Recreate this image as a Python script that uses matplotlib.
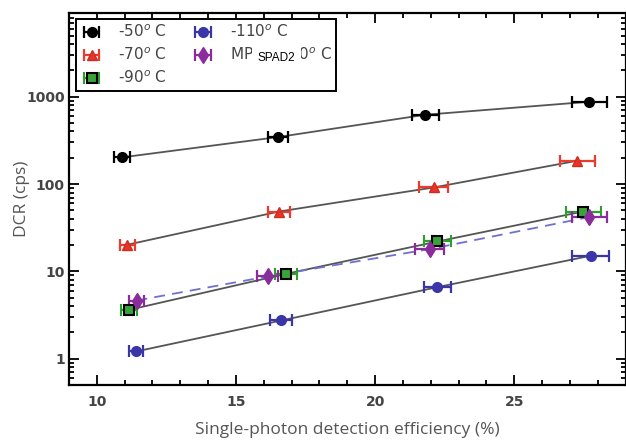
import matplotlib
matplotlib.use("Agg")
import matplotlib.pyplot as plt
from matplotlib.ticker import MultipleLocator, LogLocator, NullFormatter, FixedLocator, FixedFormatter

# ---- data ----
sde_50 = [10.9, 16.5, 21.8, 27.7]
dcr_50 = [202, 345, 622, 877]
err_50 = [0.28, 0.36, 0.49, 0.62]

sde_70 = [11.1, 16.55, 22.1, 27.26]
dcr_70 = [20.2, 48.5, 91.4, 185]
err_70 = [0.28, 0.41, 0.51, 0.62]

sde_90 = [11.17, 16.8, 22.24, 27.47]
dcr_90 = [3.63, 9.37, 22.0, 48.5]
err_90 = [0.28, 0.41, 0.50, 0.63]

sde_110 = [11.41, 16.63, 22.24, 27.74]
dcr_110 = [1.21, 2.74, 6.6, 15.1]
err_110 = [0.24, 0.39, 0.50, 0.66]

sde_m90 = [11.43, 16.14, 21.96, 27.69]
dcr_m90 = [4.64, 8.75, 18.0, 41.9]
err_m90 = [0.26, 0.37, 0.52, 0.63]

labels = ["-50$^o$ C", "-70$^o$ C", "-90$^o$ C", "-110$^o$ C", "MPD2  -90$^o$ C"]
xticks = [10, 15, 20, 25]
yticks = [1, 10, 100, 1000]
ytick_labels = ["1", "10", "100", "1000"]

fig = plt.figure(figsize=(6.26, 4.41), dpi=100)
ax = fig.add_axes([0.110, 0.127, 0.8895, 0.8435])
ax.set_yscale("log")
ax.set_xlim(9, 29)
ax.set_ylim(0.5, 9100)

line_kw = dict(color="#555555", lw=1.3, zorder=1)
ax.plot(sde_50, dcr_50, **line_kw)
ax.plot(sde_70, dcr_70, **line_kw)
ax.plot(sde_90, dcr_90, **line_kw)
ax.plot(sde_110, dcr_110, **line_kw)
ax.plot(sde_m90, dcr_m90, color="#7070d0", lw=1.3, ls=(0, (6, 4)), zorder=1)

eb_kw = dict(ls="none", capsize=4, elinewidth=1.6, capthick=1.6, zorder=3)
h1 = ax.errorbar(sde_50, dcr_50, xerr=err_50, fmt="o", color="black", ms=7, **eb_kw)
h2 = ax.errorbar(sde_70, dcr_70, xerr=err_70, fmt="^", color="#ee3a2c", mfc="#e8342a", mec="#c83020", ms=7, **eb_kw)
h3 = ax.errorbar(sde_90, dcr_90, xerr=err_90, fmt="s", color="#2ca02c", mfc="#3aa23a", mec="black", mew=1.5, ms=7, **eb_kw)
h4 = ax.errorbar(sde_110, dcr_110, xerr=err_110, fmt="o", color="#3a36a8", ms=7, **eb_kw)
h5 = ax.errorbar(sde_m90, dcr_m90, xerr=err_m90, fmt="d", color="#8a2c9c", ms=8, **eb_kw)

leg = ax.legend([h1, h2, h3, h4, h5], labels, ncol=2, loc="upper left",
                bbox_to_anchor=(0.0126, 0.983), borderaxespad=0, frameon=True, fancybox=False,
                edgecolor="black", framealpha=1, fontsize=11, handlelength=1.5,
                handletextpad=1.0, columnspacing=1.6, labelspacing=0.42, borderpad=0.28)
leg.get_frame().set_linewidth(1.4)
for t in leg.get_texts():
    t.set_color("#444444")

# overlaid label
ax.text(0.339, 0.878, "SPAD2", transform=ax.transAxes, fontsize=8.5, color="black",
        family="Liberation Sans", va="center", ha="left", zorder=10,
        bbox=dict(facecolor="white", edgecolor="none", pad=4))

ax.xaxis.set_major_locator(FixedLocator(xticks))
ax.xaxis.set_minor_locator(MultipleLocator(1))
ax.yaxis.set_major_locator(FixedLocator(yticks))
ax.yaxis.set_major_formatter(FixedFormatter(ytick_labels))
ax.yaxis.set_minor_locator(LogLocator(base=10, subs=range(2, 10), numticks=20))
ax.yaxis.set_minor_formatter(NullFormatter())

ax.tick_params(which="both", direction="in", top=True, right=True, width=1.3, colors="black",
               labelcolor="#444444")
ax.tick_params(which="major", length=7, labelsize=10)
ax.tick_params(axis="x", which="major", pad=7)
ax.tick_params(axis="y", which="major", pad=3)
ax.tick_params(which="minor", length=3.5)
for lab in ax.get_xticklabels() + ax.get_yticklabels():
    lab.set_fontweight("bold")
for s in ax.spines.values():
    s.set_linewidth(1.6)

ax.set_xlabel("Single-photon detection efficiency (%)", fontsize=12.5, color="#555555",
              family="Open Sans")
ax.set_ylabel("DCR (cps)", fontsize=12.5, color="#555555", family="Open Sans")
ax.xaxis.set_label_coords(0.5, -0.1)
ax.yaxis.set_label_coords(-0.07, 0.5)

fig.savefig("out.png", dpi=100)
